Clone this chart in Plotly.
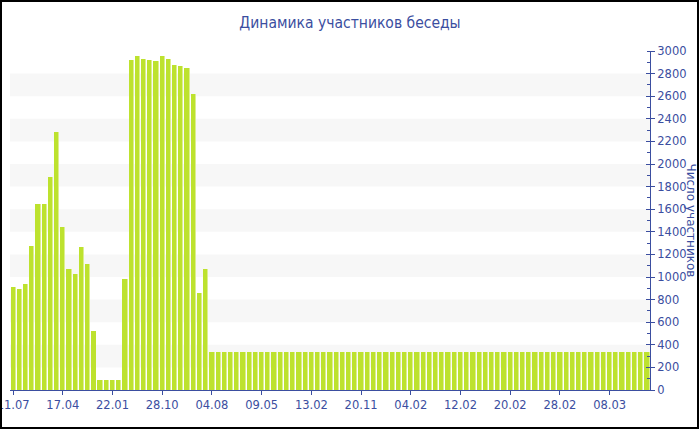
import plotly.graph_objects as go

# ---- data ----
participants = [
    908, 890, 940, 1274, 1643, 1643, 1888, 2280, 1440, 1068,
    1024, 1265, 1118, 519, 88, 88, 88, 88, 981, 2917,
    2952, 2926, 2917, 2909, 2952, 2932, 2880, 2865, 2853, 2623,
    860, 1070,
] + [340] * 71
bar_index = list(range(len(participants)))
tick_positions = [0, 8, 16, 24, 32, 40, 48, 56, 64, 72, 80, 88, 96]
tick_labels = ["11.07", "17.04", "22.01", "28.10", "04.08", "09.05", "13.02",
               "20.11", "04.02", "12.02", "20.02", "28.02", "08.03"]
band_starts = [200, 600, 1000, 1400, 1800, 2200, 2600]
band_height = 200
y_ticks = list(range(0, 3001, 200))

BLUE = "#3b4ea0"
BAR = "#bde22e"
BAR_LIGHT = "#dcef8e"

fig = go.Figure()
fig.add_trace(go.Bar(x=bar_index, y=participants, width=0.84, offset=-0.42,
                     marker=dict(color=BAR_LIGHT, line=dict(width=0)),
                     hoverinfo="skip", showlegend=False))
fig.add_trace(go.Bar(x=bar_index, y=participants, width=0.68, offset=-0.42,
                     marker=dict(color=BAR, line=dict(width=0)),
                     name="Число участников", showlegend=False))
# invisible trace to carry the inside-tick overlay axis
fig.add_trace(go.Scatter(x=[0], y=[0], yaxis="y2", mode="markers",
                         marker=dict(opacity=0), hoverinfo="skip", showlegend=False))

shapes = []
for b in band_starts:
    shapes.append(dict(type="rect", xref="paper", yref="y", x0=0, x1=1,
                       y0=b, y1=b + band_height, fillcolor="#f7f7f7",
                       line=dict(width=0), layer="below"))
# outer border of the image
shapes.append(dict(type="rect", xref="paper", yref="paper",
                   x0=(1 - 10) / 640, x1=(698 - 10) / 640,
                   y0=(390 - 428) / 339, y1=(390 - 1) / 339,
                   line=dict(color="#000000", width=2), fillcolor="rgba(0,0,0,0)"))

fig.update_layout(
    template="none",
    width=700, height=430, autosize=False,
    margin=dict(l=10, r=50, t=51, b=40, pad=0),
    paper_bgcolor="white", plot_bgcolor="white",
    barmode="overlay", bargap=0,
    title=dict(text="Динамика участников беседы", x=0.5, xref="container",
               y=1 - 23 / 430, yref="container", yanchor="middle", xanchor="center",
               automargin=False,
               font=dict(family="Liberation Sans Narrow, Arial Narrow, DejaVu Sans Condensed",
                         size=15.5, color=BLUE)),
    font=dict(family="DejaVu Sans, Verdana", size=11, color=BLUE),
    xaxis=dict(range=[-0.5, len(participants) - 0.5], tickmode="array",
               tickvals=tick_positions, ticktext=tick_labels, automargin=False,
               ticklabeloverflow="allow",
               showline=True, linecolor=BLUE, linewidth=1,
               ticks="outside", ticklen=4, tickcolor=BLUE, tickwidth=1,
               showgrid=False, zeroline=False,
               tickfont=dict(size=11.5, color=BLUE)),
    yaxis=dict(side="right", range=[0, 3000], tickmode="array", tickvals=y_ticks,
               automargin=False, ticklabeloverflow="allow",
               showline=True, linecolor=BLUE, linewidth=1,
               ticks="outside", ticklen=4, tickcolor=BLUE, tickwidth=1,
               minor=dict(ticks="inside", dtick=100, ticklen=3, tickcolor=BLUE,
                          tickwidth=1, showgrid=False),
               showgrid=False, zeroline=False,
               tickfont=dict(size=11.5, color=BLUE)),
    yaxis2=dict(overlaying="y", side="right", anchor="x", range=[0, 3000],
                tickmode="array", tickvals=y_ticks, showticklabels=False,
                automargin=False,
                ticks="inside", ticklen=4, tickcolor=BLUE, tickwidth=1,
                showline=False, showgrid=False, zeroline=False),
    shapes=shapes,
    annotations=[dict(text="Число участников", xref="paper", yref="paper",
                      x=(691 - 10) / 640, y=0.5, xanchor="center", yanchor="middle",
                      textangle=90, showarrow=False,
                      font=dict(family="DejaVu Sans, Verdana", size=12, color=BLUE))],
)

fig.write_html("out.html", config={"displayModeBar": False},
               post_script="document.body.style.margin='0';document.body.style.overflow='hidden';")
